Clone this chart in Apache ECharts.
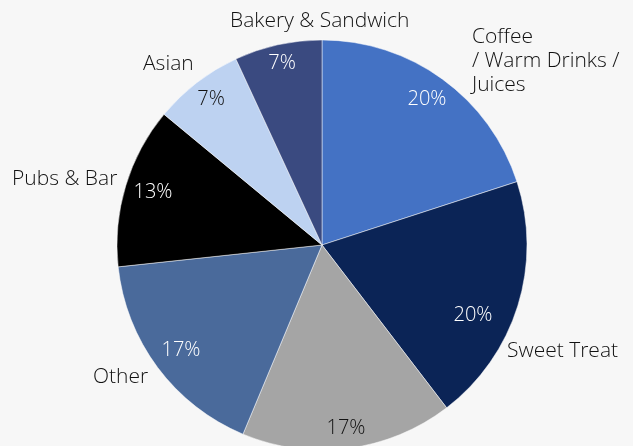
<!DOCTYPE html>
<html>
<head>
<meta charset="utf-8">
<script src="https://cdn.jsdelivr.net/npm/echarts@6/dist/echarts.min.js"></script>
<style>
  html, body { margin: 0; padding: 0; background: #ffffff; }
  #chart { width: 633px; height: 446px; background: #f7f7f7; }
</style>
</head>
<body>
<div id="chart"></div>
<script>
// Share of outlets by category (percent of total)
const categories = ['Coffee\n/ Warm Drinks /\nJuices', 'Sweet Treat', 'Fast Food', 'Other', 'Pubs & Bar', 'Asian', 'Bakery & Sandwich'];
const shares = [20.0, 19.6, 16.7, 17.0, 12.7, 7.1, 6.9];
const sliceColors = ['#4472c4', '#0b2456', '#a5a5a5', '#4a6a9b', '#000000', '#bdd2f1', '#3a4a80'];
const pctColors = ['#ffffff', '#ffffff', '#111111', '#ffffff', '#ffffff', '#111111', '#ffffff'];

// Where each category name sits (left edge, vertical middle); null = not shown
const namePos = [[472, 61], [507, 351], null, [93, 377], [12, 179], [143, 64], [230, 21]];
// Centre of each percentage label
const pctPos = [[427, 99], [473, 315], [346, 428], [181, 350], [153, 192], [211, 99], [282, 63]];

const FONT = '"Open Sans", Lato, sans-serif';
const center = [322, 245];
const R = 205;

const chart = echarts.init(document.getElementById('chart'), null, { renderer: 'canvas' });

const sliceData = categories.map((c, i) => ({
  name: c,
  value: shares[i],
  itemStyle: { color: sliceColors[i] },
  label: { show: namePos[i] !== null }
}));

const pctData = categories.map((c, i) => ({
  name: c,
  value: shares[i],
  label: { color: pctColors[i] }
}));

chart.setOption({
  backgroundColor: 'transparent',
  animation: false,
  series: [
    {
      type: 'pie',
      center: center,
      radius: [0, R],
      startAngle: 90,
      clockwise: true,
      silent: true,
      itemStyle: { borderColor: 'rgba(255,255,255,0.6)', borderWidth: 0.8 },
      label: {
        show: true,
        position: 'outside',
        formatter: '{b}',
        color: '#111111',
        fontFamily: FONT,
        fontWeight: 300,
        fontSize: 21,
        lineHeight: 24,
        align: 'left',
        overflow: 'none'
      },
      labelLine: { show: false },
      labelLayout: function (p) {
        const pos = namePos[p.dataIndex];
        if (!pos) return {};
        return { x: pos[0], y: pos[1], align: 'left', verticalAlign: 'middle', hideOverlap: false };
      },
      data: sliceData
    },
    {
      // transparent copy of the pie that only carries the percentage labels
      type: 'pie',
      center: center,
      radius: [0, R],
      startAngle: 90,
      clockwise: true,
      silent: true,
      itemStyle: { color: 'rgba(0,0,0,0)' },
      label: {
        show: true,
        position: 'inside',
        formatter: p => Math.round(p.percent) + '%',
        fontFamily: FONT,
        fontWeight: 300,
        fontSize: 20
      },
      labelLine: { show: false },
      labelLayout: function (p) {
        const pos = pctPos[p.dataIndex];
        return { x: pos[0], y: pos[1], align: 'center', verticalAlign: 'middle' };
      },
      data: pctData
    }
  ]
});
</script>
</body>
</html>
